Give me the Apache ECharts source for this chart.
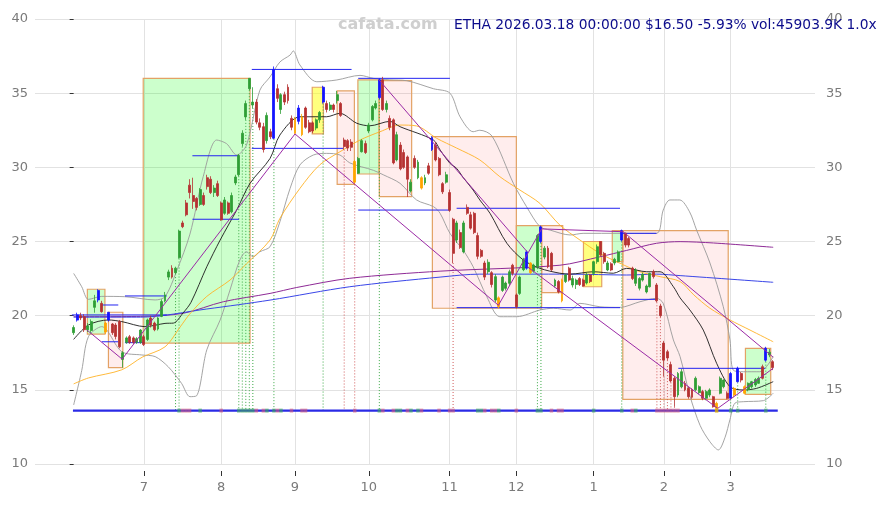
<!DOCTYPE html>
<html>
<head>
<meta charset="utf-8">
<script src="https://cdn.jsdelivr.net/npm/echarts@6/dist/echarts.min.js"></script>
<style>
  html, body { margin: 0; padding: 0; background: #ffffff; }
  #chart { width: 887px; height: 505px; }
</style>
</head>
<body>
<div id="chart"></div>
<script>
// ETHA daily candles 2025-06-02 .. 2026-03-18, x = trading-day number (0 = 2025-06-02)
// each row: [open, close, low, high]
const candles = [
  [18.85,19.2,18.7,19.35],[19.7,20.05,19.6,20.2],[20.0,19.85,19.7,20.2],[19.93,19.05,18.9,20.1],[19.05,19.3,18.9,19.5],
  [19.0,19.6,18.8,19.75],[20.56,21.0,20.2,21.4],[21.06,21.7,20.9,21.78],[20.83,20.27,20.2,21.0],[19.5,18.9,18.76,19.6],
  [19.7,20.23,19.6,20.23],[19.44,18.85,18.7,19.5],[19.37,18.6,18.4,19.5],[19.6,17.9,17.8,19.71],[17.05,17.5,16.5,17.6],
  [18.2,18.5,18.1,18.6],[18.58,18.2,18.1,18.7],[18.5,18.2,18.1,18.6],[18.2,18.45,18.1,18.55],[18.2,19.03,18.1,19.1],
  [18.58,18.05,17.95,18.7],[18.4,19.71,18.3,19.8],[19.84,19.37,19.2,20.0],[19.5,19.05,18.95,19.6],[19.1,19.84,19.0,19.9],
  [19.95,20.95,19.9,21.1],[21.0,21.4,20.9,21.6],[22.6,22.95,22.4,23.1],[23.2,22.6,22.5,23.4],[22.9,23.2,22.8,23.3],
  [23.9,25.7,23.85,25.8],[26.25,26.0,25.9,26.4],[27.6,26.8,26.7,27.8],[28.8,28.3,27.9,29.2],[28.1,27.7,27.2,29.3],
  [27.9,27.3,27.1,28.0],[27.5,28.5,27.4,28.6],[28.1,27.5,27.4,28.3],[29.3,28.7,28.5,29.5],[29.2,28.3,28.2,29.4],
  [28.3,28.6,28.0,28.8],[28.9,28.1,28.0,29.1],[27.6,26.45,26.4,27.7],[26.9,27.8,26.8,28.0],[27.6,26.9,26.8,27.7],
  [27.0,28.1,26.9,28.3],[28.95,29.35,28.8,29.5],[29.5,30.8,29.4,30.9],[31.6,32.3,31.4,32.5],[33.4,34.3,33.2,34.5],
  [35.3,36.0,35.2,36.0],[34.2,34.4,34.0,35.4],[34.4,33.05,32.9,34.6],[33.0,32.7,32.5,33.3],[32.74,31.2,31.0,33.0],
  [31.8,33.5,31.6,33.7],[32.4,32.06,31.9,32.6],[31.96,36.6,31.9,36.8],[35.3,34.65,34.4,35.6],[33.9,34.9,33.6,35.0],
  [34.9,34.4,34.2,35.1],[35.4,34.5,34.3,35.6],[33.3,32.7,32.5,33.5],[33.25,32.3,32.25,33.4],[33.1,34.0,32.9,34.2],
  [33.4,32.2,32.1,33.6],[34.0,32.7,32.6,34.1],[33.0,32.4,32.3,33.2],[33.0,32.45,32.3,33.1],[32.65,33.2,32.5,33.3],
  [33.2,33.7,33.0,33.8],[34.4,35.4,34.3,35.5],[34.3,33.9,33.7,34.5],[33.9,34.2,33.8,34.4],[34.2,33.9,33.7,34.3],
  [34.5,34.9,34.3,35.15],[34.3,33.5,33.4,34.4],[31.84,31.4,31.2,32.0],[31.8,31.3,31.1,31.9],[31.7,31.35,31.1,31.9],
  [30.4,29.0,28.85,30.5],[29.6,30.6,29.55,30.7],[31.05,31.8,31.0,31.9],[31.6,31.0,30.9,31.8],[32.45,32.85,32.3,33.0],
  [33.2,34.1,33.1,34.2],[34.0,34.3,33.9,34.5],[34.7,35.9,34.6,36.0],[35.9,33.9,33.8,36.1],[33.9,34.3,33.7,34.5],
  [33.3,32.7,32.5,33.5],[33.2,30.3,30.2,33.3],[30.5,32.2,30.4,32.4],[31.5,29.9,29.8,31.7],[31.0,30.0,29.9,31.2],
  [30.7,29.2,28.0,30.8],[28.4,29.0,28.3,29.2],[30.6,30.0,29.9,30.8],[29.3,30.35,29.2,30.5],[29.3,28.6,28.5,29.4],
  [28.95,29.3,28.8,29.5],[30.1,29.6,29.5,30.3],[31.2,32.0,31.1,32.1],[31.5,30.5,30.4,31.7],[30.6,29.5,29.4,30.7],
  [28.9,28.35,28.2,29.0],[29.0,29.5,28.9,29.7],[28.3,27.1,27.0,28.5],[26.5,24.2,23.55,26.6],[25.1,26.25,24.9,26.4],
  [25.6,24.6,24.5,25.8],[24.3,26.25,24.2,26.4],[27.3,26.9,26.8,27.5],[26.8,25.9,25.8,27.0],[26.9,25.6,25.5,27.0],
  [25.4,24.0,23.8,25.6],[24.4,24.0,23.9,24.5],[23.55,22.6,22.4,23.7],[22.96,23.6,22.8,23.8],[22.9,22.1,21.9,23.0],
  [21.05,22.63,20.9,22.8],[21.2,20.6,20.5,21.3],[21.7,22.6,21.6,22.7],[21.84,22.2,21.7,22.3],[22.18,22.96,22.0,23.1],
  [23.4,22.85,22.7,23.5],[21.4,20.6,20.5,21.5],[21.5,22.6,21.4,22.7],[23.1,23.75,23.0,23.9],[23.2,24.3,23.1,24.4],
  [23.55,22.9,22.8,23.6],[23.0,23.4,22.9,23.5],[23.3,25.4,23.2,25.5],[25.0,25.98,24.9,26.07],[23.95,24.55,23.8,24.7],
  [24.55,23.3,23.2,24.7],[24.2,23.1,23.0,24.3],[22.0,22.4,21.9,22.5],[22.3,21.6,21.5,22.4],[22.4,21.0,20.9,22.5],
  [22.3,22.74,22.2,22.8],[23.2,22.4,22.3,23.3],[22.07,22.5,21.9,22.7],[22.1,22.4,21.8,22.5],[22.5,22.1,22.0,22.6],
  [22.4,22.0,21.95,22.5],[22.2,22.74,22.1,22.9],[22.74,22.3,22.2,22.8],[22.85,23.64,22.7,23.7],[23.64,24.65,23.5,24.8],
  [25.0,24.1,24.0,25.0],[24.2,23.64,23.5,24.3],[23.08,23.55,23.0,23.7],[23.5,23.08,23.0,23.6],[23.55,23.8,23.4,23.9],
  [23.64,24.3,23.6,24.4],[25.1,25.73,25.0,25.8],[25.55,24.76,24.6,25.6],[25.2,24.76,24.6,25.3],[23.2,22.5,22.4,23.3],
  [22.18,23.08,22.0,23.2],[21.85,22.5,21.7,22.6],[22.4,22.8,22.3,22.9],[21.6,22.0,21.5,22.1],[21.95,22.85,21.9,22.9],
  [22.97,22.63,22.5,23.1],[22.07,21.0,20.9,22.2],[20.65,20.0,19.9,20.8],[18.15,17.0,15.9,18.3],[17.57,17.15,17.0,17.7],
  [16.7,15.6,15.5,16.9],[15.78,14.54,13.86,15.9],[14.65,16.1,14.5,16.2],[15.2,16.22,15.1,16.4],[15.44,15.0,14.9,15.6],
  [15.1,14.54,14.4,15.2],[15.0,14.5,14.4,15.1],[15.0,15.78,14.9,15.9],[14.81,15.21,14.7,15.3],[14.88,14.43,14.3,15.0],
  [14.43,14.88,14.3,15.0],[14.65,14.99,14.5,15.1],[14.54,13.86,13.8,14.6],[14.09,13.75,13.6,14.2],[14.77,15.78,14.7,15.9],
  [15.21,15.66,15.1,15.7],[14.77,14.43,14.36,14.9],[14.43,16.1,14.36,16.2],[15.1,14.65,14.5,15.2],[15.55,16.45,15.5,16.56],
  [16.1,15.66,15.5,16.2],[15.21,14.77,14.7,15.3],[15.03,15.44,14.9,15.5],[15.21,15.55,15.1,15.6],[15.33,15.7,15.2,15.8],
  [15.44,15.78,15.4,15.9],[16.56,15.78,15.7,16.7],[17.0,17.8,16.9,17.9],[17.35,17.54,17.2,17.75],[16.9,16.5,16.33,17.0]
];

// swing-high / swing-low bars (drawn in pivot colours)
const pivotHighBars = [1, 7, 10, 57, 64, 71, 87, 102, 129, 133, 156, 187, 189, 197];
const pivotLowBars = [9, 63, 65, 80, 99, 121, 130, 139, 183, 188, 191];

// month axis
const monthStarts = [20, 42, 63, 84, 107, 126, 148, 168, 187];
const monthLabels = ['7', '8', '9', '10', '11', '12', '1', '2', '3'];

// indicator lines, [day, value]
const ma20 = [[0,18.4],[4.2,19.37],[9.9,19.71],[13.7,19.6],[20.3,19.26],[26,19.48],[28.4,19.5],[31.2,20.2],[33.4,20.9],
  [37.9,23.3],[41.7,25.1],[46.4,27.12],[50.2,28.92],[55.9,30.6],[58.7,32.18],[64.4,33.41],[72,33.41],[75.8,33.64],
  [80.6,32.97],[84.3,32.8],[90,33.1],[92.9,32.74],[102.4,31.84],[104.3,31.17],[107.1,30.27],[109,29.93],[110.9,29.3],
  [113.7,28.47],[115.6,27.8],[118.5,26.9],[123.3,24.88],[128,23.75],[132.7,23.19],[138.4,22.86],[141.3,22.8],
  [147.9,22.96],[153.6,22.86],[157.4,23.19],[163.1,22.96],[166.9,22.96],[170.7,21.95],[172.6,21.2],[175.4,20.38],
  [179.2,19.03],[183,16.79],[186.8,15.21],[190.6,14.99],[194.4,15.1],[199.1,15.55]];
const ma50 = [[0,15.4],[4.2,15.8],[13.7,16.35],[19.5,17.2],[26,17.9],[30.5,19.3],[33,20.1],[37.9,21.3],[44.5,22.4],
  [49.2,23.5],[55.9,25.1],[58.7,26.56],[64.4,28.58],[70,30.16],[75.8,31.05],[81.5,31.84],[87.2,32.4],[92.9,32.85],
  [97.6,32.79],[103.3,31.96],[109,31.3],[115.6,30.5],[121.3,29.37],[127,28.47],[132.7,27.57],[138.4,26.1],[144.1,25.1],
  [149.8,24.2],[155.5,23.53],[161.2,22.96],[166.9,22.63],[172.6,22.3],[176.5,21.4],[181.1,20.5],[186.8,19.71],
  [192.5,19.03],[199.1,18.24]];
const bandUpper = [[0,22.85],[2.3,21.95],[4.2,21.1],[8,21.3],[14.5,21.28],[23.2,21.06],[26,21.28],[29.3,23.0],[33.1,25.5],
  [36.9,29.4],[40.7,31.84],[43.5,31.6],[46.4,30.83],[49.2,31.5],[53,35.2],[55.9,36.1],[58.7,37.1],[61.6,37.57],
  [62.5,37.85],[64.4,36.9],[69.2,35.77],[74.9,35.89],[81.5,36.2],[85.3,36.0],[90,35.9],[94.8,35.84],[102.4,35.3],
  [107.1,35.0],[110,33.4],[113.7,32.4],[115.6,32.5],[119.1,32.1],[125.2,28.9],[128.9,27.35],[132.7,26.0],[135.6,25.77],
  [141.3,25.44],[145,25.55],[155.5,25.55],[165.9,25.55],[167.8,27.12],[169.7,27.8],[172.5,27.8],[175.3,27.0],
  [177.3,25.77],[181.1,23.55],[184.9,20.6],[186.8,18.36],[187.7,16.34],[190.6,16.22],[195.3,16.22],[199.1,17.24]];
const bandLower = [[0,13.98],[2.3,16.3],[4.2,18.58],[8,19.26],[13.7,17.57],[19.4,17.35],[23.2,17.24],[26.9,16.56],
  [30.7,15.44],[33.1,14.54],[35,14.6],[37.9,17.7],[41.7,19.71],[44.5,21.73],[47.3,23.75],[49.2,24.31],[51.1,23.97],
  [53,24.31],[55.9,24.65],[58.7,26.33],[61.6,28.58],[64.4,30.16],[68.2,30.83],[72,30.94],[75.8,30.83],[78.6,30.3],
  [85.3,29.8],[88.1,29.5],[92.9,28.92],[97.6,27.8],[102.4,27.35],[104.3,26.9],[107.1,25.55],[110.9,24.4],[113.7,23.3],
  [117.6,21.28],[121.3,19.93],[126.1,19.93],[132.7,20.38],[136.5,20.5],[141.3,20.38],[144.1,20.83],[149.8,20.6],
  [155.5,20.56],[161.2,20.94],[165.9,21.17],[167.8,20.83],[170.7,18.36],[172.6,17.24],[175.4,14.6],[178.3,12.6],
  [181.1,11.5],[183.5,10.95],[185.4,11.8],[186.8,13.0],[188.2,14.1],[190.6,14.2],[196.3,14.27],[199.1,14.77]];
const maLongA = [[0,19.93],[19,19.95],[31.2,20.16],[42.6,20.94],[55.9,21.5],[63.5,21.9],[78.6,22.52],[104.3,23.0],
  [138.4,23.4],[149.8,23.97],[157.4,24.4],[165.9,24.88],[172.6,24.99],[182.1,24.9],[199.1,24.61]];
const maLongB = [[0,19.9],[19,19.9],[37.9,20.45],[55.9,21.05],[78.6,21.95],[104.3,22.6],[115.6,22.8],[141.3,22.8],
  [157.4,22.74],[165.9,22.8],[172.6,22.7],[199.1,22.25]];

// swing paths
const swingMajor = [[3.8,19.03],[13.8,17.07],[63,32.25],[120.9,20.7],[133.2,25.85],[156.4,25.66],[199.1,17.2]];
const swingMinor = [[86.9,35.9],[129.1,24.3]];
const swingMinor2 = [[129.1,23.3],[183.3,13.75],[199.1,16.45]];

// range boxes: [fromDay, toDay, low, high, kind]
const boxes = [
  [3.9, 8.9, 18.76, 21.78, 'up'], [9.9, 14.0, 16.5, 20.23, 'down'], [19.8, 50.2, 18.15, 36.0, 'up'],
  [67.9, 71.1, 32.25, 35.4, 'flat'], [75.0, 79.9, 28.85, 35.15, 'down'], [80.9, 86.9, 29.55, 35.9, 'up'],
  [87.0, 96.2, 28.02, 35.84, 'down'], [102.1, 126.0, 20.5, 32.07, 'down'], [126.0, 133.2, 20.5, 26.07, 'up'],
  [133.2, 139.2, 21.55, 26.07, 'down'], [145.1, 150.3, 21.95, 25.0, 'flat'], [153.3, 156.3, 23.64, 25.73, 'up'],
  [156.3, 186.3, 14.36, 25.73, 'down'], [191.2, 198.4, 14.7, 17.8, 'up']
];

// support / resistance segments: [fromDay, toDay, level]
const levels = [
  [-0.5, 26.5, 20.05], [8, 12.7, 20.72], [8, 12.7, 18.24], [14.6, 26.5, 21.33], [14.6, 20.3, 18.18],
  [33.8, 47.1, 30.78], [33.8, 47.1, 26.5], [50.7, 79.1, 36.6], [50.7, 76.7, 31.28], [81, 107.1, 36.0],
  [81, 107.1, 27.12], [109, 155.5, 27.24], [109, 155.5, 20.54], [156.3, 165.9, 25.55], [157.4, 165.9, 21.1],
  [172.1, 196.8, 16.45]
];

// signal rail
const railLevel = 13.6;
const railSpan = [-0.2, 200.4];
const signalUp = [30,36,47,48,49,50,51,55,57,59,87,92,93,96,98,115,116,121,132,133,148,156,160,187,189,197];
const signalDown = [31,32,33,42,52,54,58,62,65,66,80,88,91,95,99,104,107,108,117,119,120,126,136,138,139,159,166,167,168,169,170,171,172];
const signalPivot = [183];
const dropUp = [29,30,47,48,49,50,51,57,71,87,132,133,156,187,189,197];
const dropDown = [77,80,108,166,167,168,169,170,171];

const UP = '#2f9e35', DOWN = '#b53131', HI = '#1414ff', LO = '#ffa500';
const BOX_FILL = { up: 'rgba(0,255,0,0.2)', down: 'rgba(255,0,0,0.07)', flat: 'rgba(255,255,0,0.5)' };

const candleData = candles.map((c, d) => {
  const item = { value: [d, c[0], c[1], c[2], c[3]] };
  const col = pivotHighBars.includes(d) ? HI : (pivotLowBars.includes(d) ? LO : null);
  if (col) item.itemStyle = { color: col, color0: col, borderColor: col, borderColor0: col };
  return item;
});

function lineSeries(data, color, width, z, smooth) {
  return { type: 'line', data: data, symbol: 'none', smooth: smooth || 0, z: z, silent: true,
    lineStyle: { color: color, width: width }, animation: false };
}

function dropSeries(days, color) {
  return {
    type: 'custom', z: 3, silent: true, animation: false,
    data: days.map(d => [d, candles[d][2]]),
    encode: { x: 0, y: 1 },
    renderItem: (params, api) => {
      const top = api.coord([api.value(0), api.value(1)]);
      const bot = api.coord([api.value(0), railLevel]);
      return { type: 'line', shape: { x1: top[0], y1: top[1], x2: bot[0], y2: bot[1] },
        style: { stroke: color, lineWidth: 1, lineDash: [1, 2] } };
    }
  };
}

function signalSeries(days, color) {
  return { type: 'scatter', data: days.map(d => [d, railLevel]), symbol: 'rect', symbolSize: [3.5, 4],
    itemStyle: { color: color }, z: 7, silent: true, animation: false };
}

const chart = echarts.init(document.getElementById('chart'));
chart.setOption({
  animation: false,
  backgroundColor: '#ffffff',
  grid: { left: 35, right: 72, top: 19, bottom: 41 },
  xAxis: {
    type: 'value', min: -11, max: 211, offset: 7,
    axisLine: { show: false },
    axisTick: { show: true, customValues: monthStarts, length: 5, lineStyle: { color: '#333' } },
    axisLabel: { customValues: monthStarts, color: '#7a7a7a', fontSize: 13, margin: 10,
      fontFamily: 'DejaVu Sans', formatter: v => monthLabels[monthStarts.indexOf(v)] },
    splitLine: { show: true, lineStyle: { color: '#e2e2e2', width: 1 } }
  },
  yAxis: [
    { type: 'value', min: 10, max: 40, interval: 5, position: 'left',
      axisLine: { show: false }, axisTick: { show: true, length: 4, lineStyle: { color: '#333' } },
      axisLabel: { color: '#7a7a7a', fontSize: 13, margin: 7, fontFamily: 'DejaVu Sans' },
      splitLine: { lineStyle: { color: '#e2e2e2', width: 1 } } },
    { type: 'value', min: 10, max: 40, interval: 5, position: 'right',
      axisLine: { show: false }, axisTick: { show: false },
      axisLabel: { color: '#7a7a7a', fontSize: 13, margin: 11, fontFamily: 'DejaVu Sans' },
      splitLine: { show: false } }
  ],
  graphic: [
    { type: 'text', left: 338, top: 17, z: 100, silent: true,
      style: { text: 'cafata.com', font: 'bold 16px "DejaVu Sans"', fill: '#cfcfcf' } },
    { type: 'text', left: 454, top: 18, z: 100, silent: true,
      style: { text: 'ETHA 2026.03.18 00:00:00 $16.50 -5.93% vol:45903.9K 1.0x',
        font: '13.8px "DejaVu Sans"', fill: '#0c0c8c' } }
  ],
  series: [
    {
      type: 'custom', z: 1, silent: true, animation: false,
      data: boxes.map(b => [b[0], b[1], b[2], b[3]]),
      encode: { x: [0, 1], y: [2, 3] },
      renderItem: (params, api) => {
        const tl = api.coord([api.value(0), api.value(3)]);
        const br = api.coord([api.value(1), api.value(2)]);
        return { type: 'rect', shape: { x: tl[0], y: tl[1], width: br[0] - tl[0], height: br[1] - tl[1] },
          style: { fill: BOX_FILL[boxes[params.dataIndex][4]], stroke: '#e3a265', lineWidth: 1.2 } };
      }
    },
    dropSeries(dropUp, '#3aa845'),
    dropSeries(dropDown, '#d05a5a'),
    lineSeries(bandUpper, '#9a9a9a', 0.9, 3, 0.3),
    lineSeries(bandLower, '#9a9a9a', 0.9, 3, 0.3),
    lineSeries(maLongA, '#8e2a96', 1, 3, 0.3),
    lineSeries(maLongB, '#3a46e8', 1, 3, 0.3),
    lineSeries(ma50, '#ffb226', 0.9, 3, 0.3),
    lineSeries(ma20, '#1a1a1a', 0.9, 3, 0.3),
    {
      type: 'custom', z: 4, silent: true, animation: false,
      data: levels.map(s => [s[0], s[1], s[2]]),
      encode: { x: [0, 1], y: 2 },
      renderItem: (params, api) => {
        const a = api.coord([api.value(0), api.value(2)]);
        const b = api.coord([api.value(1), api.value(2)]);
        return { type: 'line', shape: { x1: a[0], y1: a[1], x2: b[0], y2: b[1] },
          style: { stroke: '#2323f0', lineWidth: 1 } };
      }
    },
    {
      type: 'candlestick', z: 5, silent: true, animation: false,
      data: candleData,
      encode: { x: 0, y: [1, 2, 3, 4] },
      barWidth: 2.4,
      itemStyle: { color: UP, color0: DOWN, borderColor: UP, borderColor0: DOWN, borderWidth: 0.8 }
    },
    lineSeries(swingMajor, '#9b2aa6', 1, 6),
    lineSeries(swingMinor, '#9b2aa6', 1, 6),
    lineSeries(swingMinor2, '#9b2aa6', 1, 6),
    lineSeries([[railSpan[0], railLevel], [railSpan[1], railLevel]], '#2a2ae6', 2.2, 6),
    signalSeries(signalUp, 'rgba(60,170,90,0.75)'),
    signalSeries(signalDown, 'rgba(215,90,120,0.7)'),
    signalSeries(signalPivot, '#e0b000')
  ]
});
</script>
</body>
</html>
